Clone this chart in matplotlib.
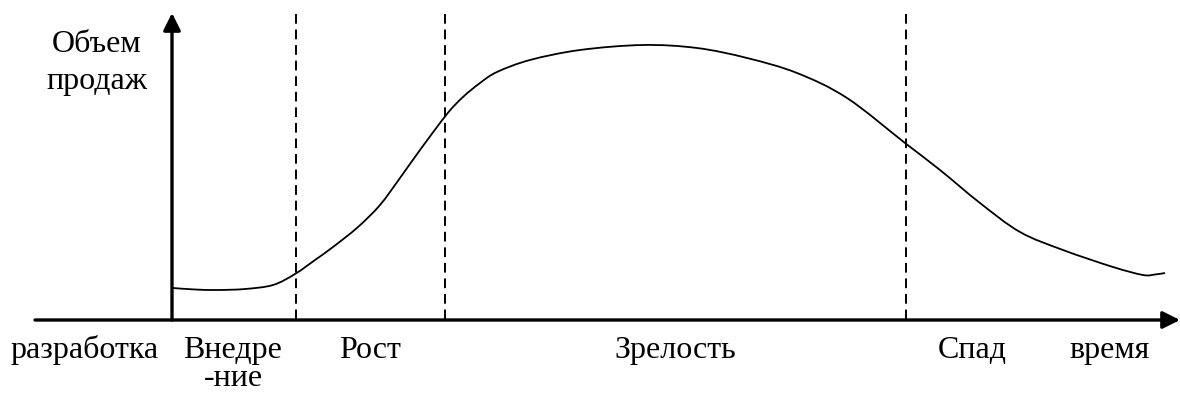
import matplotlib
matplotlib.use("Agg")
import matplotlib.pyplot as plt
from matplotlib.path import Path
from matplotlib.patches import PathPatch

# Sales curve (pixel-space data: x, y from top)
curve_x = [173, 195, 217, 245, 273, 295, 315, 333, 358, 380, 400, 420, 447, 463, 480, 497,
           530, 580, 643, 697, 747, 797, 847, 905, 940, 980, 1020, 1063, 1113, 1143, 1155, 1165]
curve_y = [288, 289.5, 290, 289, 285, 274, 260, 247, 227, 205, 178, 150, 114, 97, 83, 72,
           60, 50, 45, 48, 58, 73, 98, 143, 170, 203, 232, 250, 267, 275, 274.5, 273]

# Stage boundaries (dashed lines) and labels
stage_bounds = [296, 445, 906]
label_texts = ["разработка", "Внедре\n-ние", "Рост", "Зрелость", "Спад", "время"]
label_x = [85, 233, 370, 675, 972, 1110]
y_title = "Объем\nпродаж"

axis_y = 320
vaxis_x = 172

fig = plt.figure(figsize=(11.8, 3.94), dpi=100)
ax = fig.add_axes([0, 0, 1, 1])
ax.set_xlim(0, 1180)
ax.set_ylim(394, 0)
ax.axis("off")

font = dict(family="Liberation Serif", fontsize=23, color="black")

# axes with arrows
ax.annotate("", xy=(1180, axis_y), xytext=(35, axis_y),
            arrowprops=dict(arrowstyle="-|>", lw=2.4, color="black", mutation_scale=26,
                            shrinkA=0, shrinkB=0))
ax.annotate("", xy=(vaxis_x, 13), xytext=(vaxis_x, axis_y),
            arrowprops=dict(arrowstyle="-|>", lw=2.4, color="black", mutation_scale=26,
                            shrinkA=0, shrinkB=0))

# dashed stage lines
for xb in stage_bounds:
    ax.plot([xb, xb], [14, axis_y], color="black", lw=1.4, dashes=(5, 3))

# smooth curve through the points (Catmull-Rom -> cubic Bezier)
pts = list(zip(curve_x, curve_y))
verts = [pts[0]]
codes = [Path.MOVETO]
n = len(pts)
for i in range(n - 1):
    p0 = pts[i - 1] if i > 0 else pts[i]
    p1 = pts[i]
    p2 = pts[i + 1]
    p3 = pts[i + 2] if i + 2 < n else pts[i + 1]
    c1 = (p1[0] + (p2[0] - p0[0]) / 6, p1[1] + (p2[1] - p0[1]) / 6)
    c2 = (p2[0] - (p3[0] - p1[0]) / 6, p2[1] - (p3[1] - p1[1]) / 6)
    verts += [c1, c2, p2]
    codes += [Path.CURVE4] * 3
ax.add_patch(PathPatch(Path(verts, codes), facecolor="none", edgecolor="black", lw=1.3))

# labels (one text per line, baseline-placed)
for t, x in zip(label_texts, label_x):
    for k, line in enumerate(t.split("\n")):
        ax.text(x, 358 + 28 * k, line, ha="center", va="baseline", **font)
for k, line in enumerate(y_title.split("\n")):
    ax.text(97, 52 + 37 * k, line, ha="center", va="baseline", **font)

fig.savefig("out.png", dpi=100)
